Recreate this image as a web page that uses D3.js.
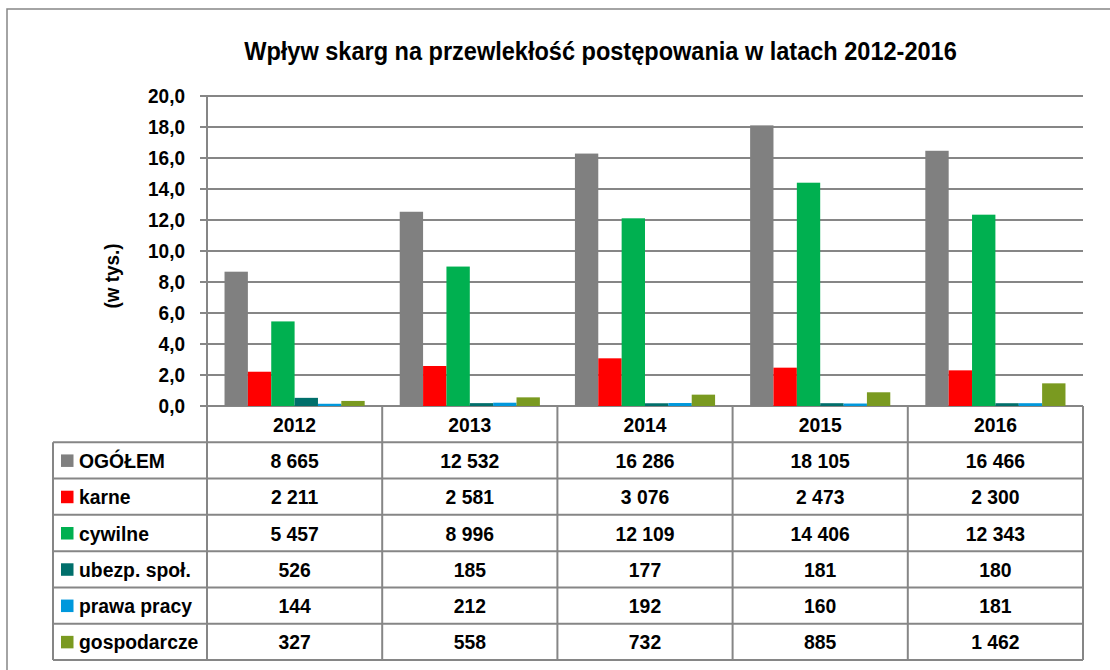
<!DOCTYPE html>
<html><head><meta charset="utf-8">
<script src="https://cdn.jsdelivr.net/npm/d3@7/dist/d3.min.js"></script>
<style>
html,body{margin:0;padding:0;background:#fff;}
text{font-family:"Liberation Sans",Arial,sans-serif;font-weight:bold;fill:#000;}
</style></head>
<body>
<svg id="c" width="1110" height="670"></svg>
<script>
const title = "Wpływ skarg na przewlekłość postępowania w latach 2012-2016";
const yAxisLabel = "(w tys.)";
const years = ["2012","2013","2014","2015","2016"];
const seriesNames = ["OGÓŁEM","karne","cywilne","ubezp. społ.","prawa pracy","gospodarcze"];
const seriesColors = ["#808080","#FF0000","#00B050","#006F6B","#0098DC","#7A9A20"];
const ogolem = [8665,12532,16286,18105,16466];
const karne = [2211,2581,3076,2473,2300];
const cywilne = [5457,8996,12109,14406,12343];
const ubezp = [526,185,177,181,180];
const prawaPracy = [144,212,192,160,181];
const gospodarcze = [327,558,732,885,1462];
const yTicks = [0,2,4,6,8,10,12,14,16,18,20];

const seriesValues = [ogolem,karne,cywilne,ubezp,prawaPracy,gospodarcze];
const fmtTick = d => d.toFixed(1).replace(".", ",");
const fmtVal = v => { const s = String(v); return s.length > 3 ? s.slice(0, s.length-3) + " " + s.slice(-3) : s; };

const svg = d3.select("#c");
const gray = "#868686";

function measure(str, size){
  const tt = svg.append("text").style("font-size",size+"px").text(str);
  const w = tt.node().getComputedTextLength(); tt.remove(); return w;
}
const tableFont = 21;
const sx = 86 / measure("OGÓŁEM", tableFont);
const tickFont = 20;
const tsxTick = 37 / measure("20,0", tickFont);

// outer frame
svg.append("rect").attr("x",7).attr("y",9).attr("width",1300).attr("height",1000)
  .attr("fill","none").attr("stroke",gray).attr("stroke-width",1.5);

const x = d3.scaleBand().domain(years).range([207,1083]).padding(0);
const xi = d3.scaleBand().domain(seriesNames).range([0,x.bandwidth()]).paddingInner(0).paddingOuter(0.75);
const y = d3.scaleLinear().domain([0,20]).range([406,96]);

// gridlines
svg.append("g").selectAll("line").data(yTicks).join("line")
  .attr("x1",200).attr("x2",1083).attr("y1",d=>y(d)).attr("y2",d=>y(d))
  .attr("stroke",gray).attr("stroke-width",2);
// y axis line
svg.append("line").attr("x1",207).attr("x2",207).attr("y1",y(20)).attr("y2",y(0))
  .attr("stroke",gray).attr("stroke-width",2);
// y tick labels
svg.append("g").selectAll("text").data(yTicks).join("text")
  .attr("transform",d=>`translate(185,${y(d)+7}) scale(${tsxTick},1)`).attr("text-anchor","end")
  .style("font-size",tickFont+"px").text(fmtTick);
// y axis label
const yl = svg.append("text").attr("text-anchor","middle").style("font-size","20px").text(yAxisLabel);
const ylsx = 65 / yl.node().getComputedTextLength();
yl.attr("transform",`translate(119,276) rotate(-90) scale(${ylsx},1)`);

// bars
const barData = [];
years.forEach((yr,i)=>seriesNames.forEach((s,j)=>barData.push({yr,s,j,v:seriesValues[j][i]/1000})));
svg.append("g").selectAll("rect").data(barData).join("rect")
  .attr("x",d=>x(d.yr)+xi(d.s)).attr("width",xi.bandwidth())
  .attr("y",d=>y(d.v)).attr("height",d=>y(0)-y(d.v))
  .attr("fill",d=>seriesColors[d.j]);

// title
const t = svg.append("text").attr("text-anchor","middle").style("font-size","25px").text(title);
const tw = t.node().getComputedTextLength();
t.attr("transform",`translate(600.5,60) scale(${713/tw},1)`);

// table
const rows = ["header"].concat(seriesNames);
const r = d3.scaleBand().domain(rows).range([406,660]).padding(0);
const tbl = svg.append("g");
rows.forEach(row=>{
  const yy = r(row) + r.bandwidth();
  tbl.append("line").attr("x1",53).attr("x2",1083).attr("y1",yy).attr("y2",yy)
    .attr("stroke",gray).attr("stroke-width",2);
});
const vx = [53].concat(years.map(d=>x(d))).concat([x(years[years.length-1])+x.bandwidth()]);
vx.forEach((xx,k)=>{
  tbl.append("line").attr("x1",xx).attr("x2",xx)
    .attr("y1",k===0 ? r(seriesNames[0]) : r("header")).attr("y2",660)
    .attr("stroke",gray).attr("stroke-width",2);
});
years.forEach(yr=>{
  tbl.append("text").attr("transform",`translate(${x(yr)+x.bandwidth()/2},${r("header")+r.bandwidth()/2+7.5}) scale(${sx},1)`)
    .attr("text-anchor","middle").style("font-size",tableFont+"px").text(yr);
});
seriesNames.forEach((s,j)=>{
  const cy = r(s)+r.bandwidth()/2;
  tbl.append("rect").attr("x",61).attr("y",cy-6).attr("width",12.5).attr("height",12.5).attr("fill",seriesColors[j]);
  tbl.append("text").attr("transform",`translate(79,${cy+7.5}) scale(${sx},1)`)
    .style("font-size",tableFont+"px").text(s);
  years.forEach((yr,i)=>{
    tbl.append("text").attr("transform",`translate(${x(yr)+x.bandwidth()/2},${cy+7.5}) scale(${sx},1)`)
      .attr("text-anchor","middle").style("font-size",tableFont+"px").text(fmtVal(seriesValues[j][i]));
  });
});
</script>
</body></html>
